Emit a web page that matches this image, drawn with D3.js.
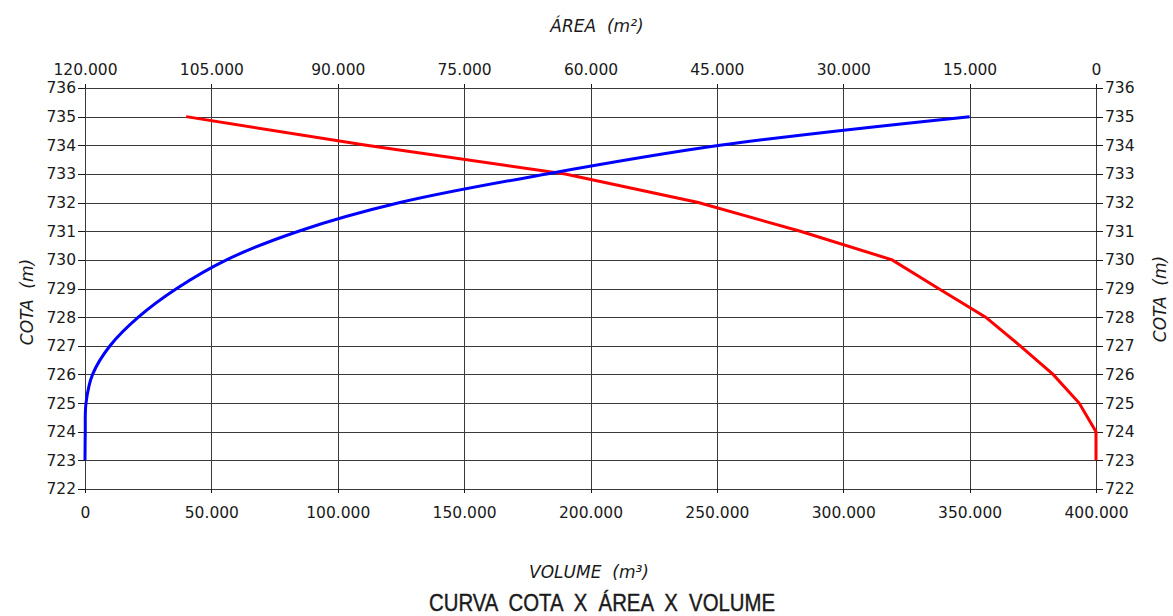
<!DOCTYPE html>
<html>
<head>
<meta charset="utf-8">
<script src="https://cdn.jsdelivr.net/npm/d3@7"></script>
<style>
  body { margin: 0; background: #fff; }
  text { font-family: "DejaVu Sans", sans-serif; fill: #1a1a1a; white-space: pre; }
  .grid line { stroke: #3a3a3a; stroke-width: 1; shape-rendering: crispEdges; }
  .axis path { display: none; }
  .axis line { stroke: #1a1a1a; shape-rendering: crispEdges; }
  .axis text { font-size: 15.5px; }
  .title { font-style: italic; font-size: 17px; }
</style>
</head>
<body>
<div id="chart"></div>
<script>
//Data
let cotas = [723, 724, 725, 726, 727, 728, 729, 730, 731, 732, 733, 734, 735];
let volumes = [0, 100, 400, 3000, 9900, 21100, 36300, 56000, 84500, 124600, 182700, 251200, 350000];
let areas = [0, 0, 2000, 5100, 9000, 13100, 18700, 24200, 35100, 47200, 63000, 86600, 108000];
let volumeTicks = [0, 50000, 100000, 150000, 200000, 250000, 300000, 350000, 400000];
let areaTicks = [120000, 105000, 90000, 75000, 60000, 45000, 30000, 15000, 0];
let cotaTicks = d3.range(722, 737);

let width = 1173, height = 616;
let margin = {top: 88, left: 85, right: 77, bottom: 127};

let svg = d3.select("#chart").append("svg")
  .attr("width", width)
  .attr("height", height);

let x = d3.scaleLinear().domain([0, 400000]).range([margin.left, width - margin.right]);
let xArea = d3.scaleLinear().domain([120000, 0]).range([margin.left, width - margin.right]);
let y = d3.scaleLinear().domain([722, 736]).range([height - margin.bottom, margin.top]);

let fmt = d => d === 0 ? "0" : d3.format(",")(d).replace(/,/g, ".");

//Grid
let grid = svg.append("g").attr("class", "grid");
grid.selectAll(".h").data(cotaTicks).enter().append("line")
  .attr("x1", x.range()[0]).attr("x2", x.range()[1])
  .attr("y1", d => Math.round(y(d)) + 0.5).attr("y2", d => Math.round(y(d)) + 0.5);
grid.selectAll(".v").data(volumeTicks).enter().append("line")
  .attr("y1", y.range()[1]).attr("y2", y.range()[0])
  .attr("x1", d => Math.round(x(d)) + 0.5).attr("x2", d => Math.round(x(d)) + 0.5);

//Axes
svg.append("g").attr("class", "axis")
  .attr("transform", "translate(0," + y(722) + ")")
  .call(d3.axisBottom(x).tickValues(volumeTicks).tickFormat(fmt).tickSize(4).tickPadding(14));
svg.append("g").attr("class", "axis")
  .attr("transform", "translate(0," + y(736) + ")")
  .call(d3.axisTop(xArea).tickValues(areaTicks).tickFormat(fmt).tickSize(4).tickPadding(9));
svg.append("g").attr("class", "axis")
  .attr("transform", "translate(" + x(0) + ",0)")
  .call(d3.axisLeft(y).tickValues(cotaTicks).tickFormat(d3.format("d")).tickSize(7).tickPadding(2));
svg.append("g").attr("class", "axis")
  .attr("transform", "translate(" + x(400000) + ",0)")
  .call(d3.axisRight(y).tickValues(cotaTicks).tickFormat(d3.format("d")).tickSize(7).tickPadding(2));

//Curves
let volLine = d3.line()
  .x((d, i) => x(volumes[i]))
  .y(d => y(d))
  .curve(d3.curveCatmullRom.alpha(0.5));
let areaLine = d3.line()
  .x((d, i) => xArea(areas[i]))
  .y(d => y(d));

svg.append("path").datum(cotas)
  .attr("d", areaLine)
  .attr("fill", "none").attr("stroke", "#ff0000").attr("stroke-width", 3);
svg.append("path").datum(cotas)
  .attr("d", volLine)
  .attr("fill", "none").attr("stroke", "#0000ff").attr("stroke-width", 3);

//Titles
svg.append("text").attr("class", "title").attr("x", 597).attr("y", 32)
  .attr("text-anchor", "middle").text("ÁREA  (m²)");
svg.append("text").attr("class", "title").attr("x", 589).attr("y", 578)
  .attr("text-anchor", "middle").text("VOLUME  (m³)");
svg.append("text").attr("x", 429).attr("y", 611)
  .attr("textLength", 346).attr("lengthAdjust", "spacingAndGlyphs")
  .style("font-family", "'Liberation Sans', Arial, sans-serif").style("font-size", "23px")
  .style("stroke", "#1a1a1a").style("stroke-width", 0.4)
  .text("CURVA  COTA  X  ÁREA  X  VOLUME");
svg.append("text").attr("class", "title").attr("transform", "translate(33,302) rotate(-90)")
  .attr("text-anchor", "middle").text("COTA  (m)");
svg.append("text").attr("class", "title").attr("transform", "translate(1166,299) rotate(-90)")
  .attr("text-anchor", "middle").text("COTA  (m)");
</script>
</body>
</html>
